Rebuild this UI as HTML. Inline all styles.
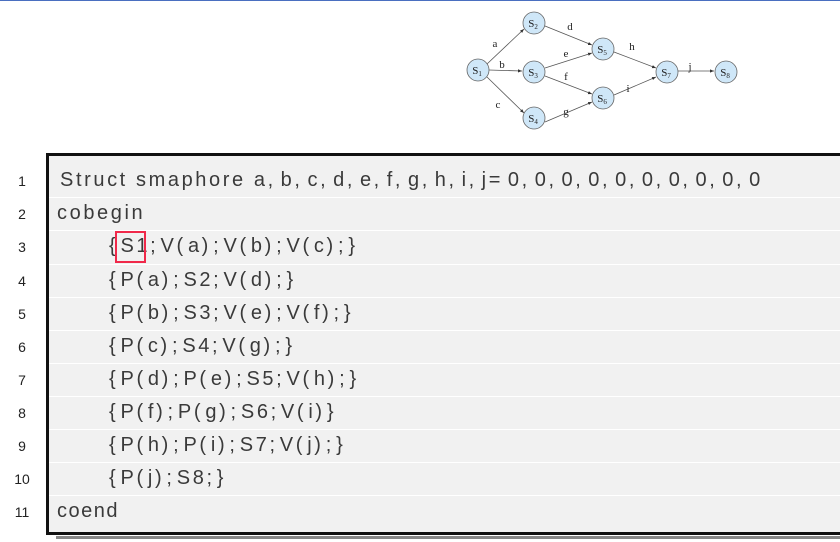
<!DOCTYPE html>
<html><head><meta charset="utf-8"><style>
body{margin:0;width:840px;height:542px;background:#fff;position:relative;overflow:hidden;font-family:"Liberation Sans",Arial,sans-serif}
#top{position:absolute;left:0;top:0;width:840px;height:1px;background:#4a6fc0}
#box{position:absolute;left:46px;top:153px;width:800px;height:382px;background:#f1f1f1;border-left:3px solid #111;border-top:3px solid #111;border-bottom:3px solid #111;box-sizing:border-box}
#shadow{position:absolute;left:56px;top:536px;width:790px;height:3px;background:#888}
.n{position:absolute;left:0;width:44px;text-align:center;font-size:14px;color:#222}
.l{position:absolute;font-size:20px;letter-spacing:2.6px;color:#3a3a3a;white-space:pre}
.p{letter-spacing:4.8px}
.c{letter-spacing:7.5px}
.sep{position:absolute;left:49px;width:800px;height:1px;background:#fff}
#red{position:absolute;left:115px;top:231px;width:31px;height:32px;border:2px solid #f0294a;box-sizing:border-box}
</style></head><body>
<div id="top"></div>
<svg style="position:absolute;left:0;top:0" width="840" height="140">
<defs><marker id="a" markerWidth="6" markerHeight="6" refX="5" refY="3" orient="auto"><path d="M0,1 L5,3 L0,5z" fill="#333"/></marker></defs>
<g stroke="#555" stroke-width="0.8" marker-end="url(#a)">
<line x1="487" y1="64" x2="524" y2="29"/>
<line x1="489" y1="70" x2="522" y2="71"/>
<line x1="487" y1="77" x2="524" y2="113"/>
<line x1="545" y1="26" x2="592" y2="45"/>
<line x1="545" y1="68" x2="592" y2="53"/>
<line x1="545" y1="76" x2="592" y2="94"/>
<line x1="545" y1="122" x2="592" y2="102"/>
<line x1="614" y1="52" x2="656" y2="68"/>
<line x1="614" y1="95" x2="656" y2="77"/>
<line x1="678" y1="71" x2="714" y2="71"/>
</g>
<g fill="#cfe7f8" stroke="#666" stroke-width="0.8">
<circle cx="478" cy="70" r="11"/><circle cx="534" cy="23" r="11"/><circle cx="534" cy="72" r="11"/><circle cx="534" cy="118" r="11"/>
<circle cx="603" cy="49" r="11"/><circle cx="603" cy="98" r="11"/><circle cx="667" cy="72" r="11"/><circle cx="726" cy="72" r="11"/>
</g>
<g font-family="Liberation Serif,serif" font-size="11" fill="#222" text-anchor="middle">
<text x="477" y="74">S<tspan font-size="7" dy="2">1</tspan></text>
<text x="533" y="27">S<tspan font-size="7" dy="2">2</tspan></text>
<text x="533" y="76">S<tspan font-size="7" dy="2">3</tspan></text>
<text x="533" y="122">S<tspan font-size="7" dy="2">4</tspan></text>
<text x="602" y="53">S<tspan font-size="7" dy="2">5</tspan></text>
<text x="602" y="102">S<tspan font-size="7" dy="2">6</tspan></text>
<text x="666" y="76">S<tspan font-size="7" dy="2">7</tspan></text>
<text x="725" y="76">S<tspan font-size="7" dy="2">8</tspan></text>
<text x="495" y="47">a</text><text x="502" y="68">b</text><text x="498" y="108">c</text>
<text x="570" y="30">d</text><text x="566" y="57">e</text><text x="566" y="80">f</text><text x="566" y="115">g</text>
<text x="632" y="50">h</text><text x="628" y="92">i</text><text x="690" y="70">j</text>
</g>
</svg>
<div id="box"></div>
<div id="shadow"></div>
<div class="sep" style="top:197px"></div><div class="sep" style="top:230px"></div><div class="sep" style="top:264px"></div><div class="sep" style="top:297px"></div><div class="sep" style="top:330px"></div><div class="sep" style="top:363px"></div><div class="sep" style="top:396px"></div><div class="sep" style="top:429px"></div><div class="sep" style="top:462px"></div><div class="sep" style="top:495px"></div>
<div class="n" style="top:173px">1</div><div class="n" style="top:206px">2</div><div class="n" style="top:239px">3</div><div class="n" style="top:273px">4</div><div class="n" style="top:306px">5</div><div class="n" style="top:339px">6</div><div class="n" style="top:372px">7</div><div class="n" style="top:405px">8</div><div class="n" style="top:438px">9</div><div class="n" style="top:471px">10</div><div class="n" style="top:504px">11</div>
<div class="l" style="left:60px;top:169px">Struct smaphore a<span class="c">,</span>b<span class="c">,</span>c<span class="c">,</span>d<span class="c">,</span>e<span class="c">,</span>f<span class="c">,</span>g<span class="c">,</span>h<span class="c">,</span>i<span class="c">,</span>j<span class="c">=</span>0<span class="c">,</span>0<span class="c">,</span>0<span class="c">,</span>0<span class="c">,</span>0<span class="c">,</span>0<span class="c">,</span>0<span class="c">,</span>0<span class="c">,</span>0<span class="c">,</span>0</div>
<div class="l" style="left:57px;top:202px">cobegin</div>
<div class="l" style="left:109px;top:235px"><span class="p">{</span>S1<span class="p">;</span>V<span class="p">(</span>a<span class="p">);</span>V<span class="p">(</span>b<span class="p">);</span>V<span class="p">(</span>c<span class="p">);}</span></div>
<div class="l" style="left:109px;top:269px"><span class="p">{</span>P<span class="p">(</span>a<span class="p">);</span>S2<span class="p">;</span>V<span class="p">(</span>d<span class="p">);}</span></div>
<div class="l" style="left:109px;top:302px"><span class="p">{</span>P<span class="p">(</span>b<span class="p">);</span>S3<span class="p">;</span>V<span class="p">(</span>e<span class="p">);</span>V<span class="p">(</span>f<span class="p">);}</span></div>
<div class="l" style="left:109px;top:335px"><span class="p">{</span>P<span class="p">(</span>c<span class="p">);</span>S4<span class="p">;</span>V<span class="p">(</span>g<span class="p">);}</span></div>
<div class="l" style="left:109px;top:368px"><span class="p">{</span>P<span class="p">(</span>d<span class="p">);</span>P<span class="p">(</span>e<span class="p">);</span>S5<span class="p">;</span>V<span class="p">(</span>h<span class="p">);}</span></div>
<div class="l" style="left:109px;top:401px"><span class="p">{</span>P<span class="p">(</span>f<span class="p">);</span>P<span class="p">(</span>g<span class="p">);</span>S6<span class="p">;</span>V<span class="p">(</span>i<span class="p">)}</span></div>
<div class="l" style="left:109px;top:434px"><span class="p">{</span>P<span class="p">(</span>h<span class="p">);</span>P<span class="p">(</span>i<span class="p">);</span>S7<span class="p">;</span>V<span class="p">(</span>j<span class="p">);}</span></div>
<div class="l" style="left:109px;top:467px"><span class="p">{</span>P<span class="p">(</span>j<span class="p">);</span>S8<span class="p">;}</span></div>
<div class="l" style="left:57px;top:500px;letter-spacing:1.5px">coend</div>
<div id="red"></div>
</body></html>
